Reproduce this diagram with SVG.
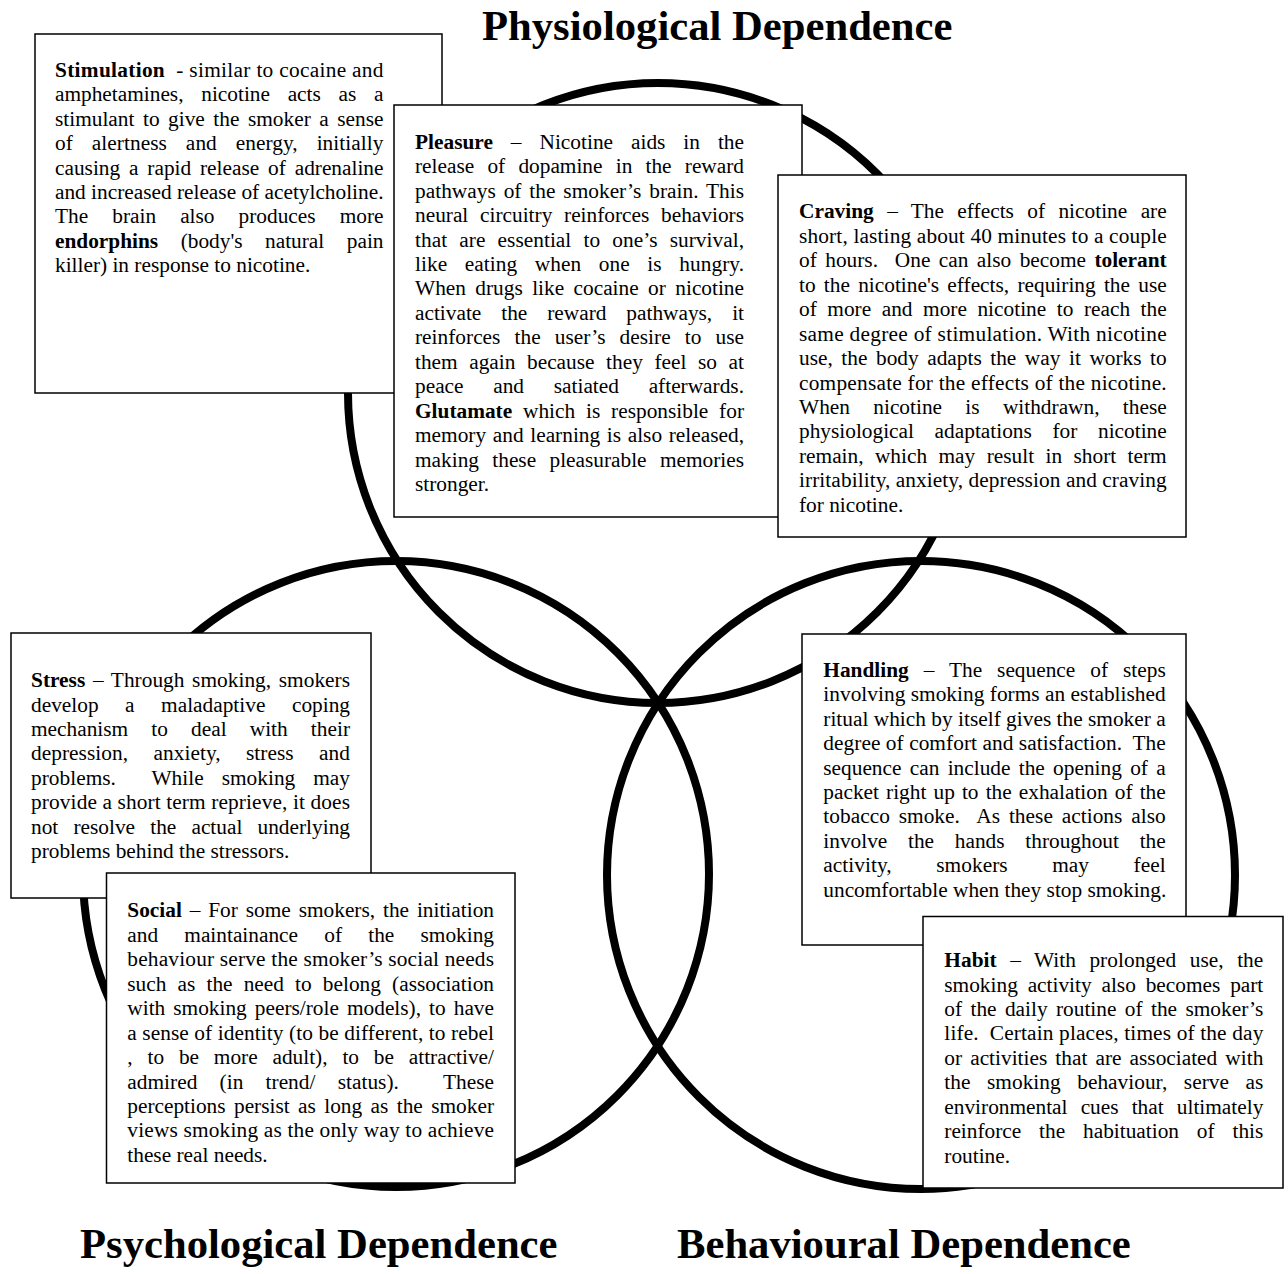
<svg xmlns="http://www.w3.org/2000/svg" width="1288" height="1274" viewBox="0 0 1288 1274" xml:space="preserve">
<style>
.ring{fill:none;stroke:#000;stroke-width:8}
.box{fill:#fff;stroke:#000;stroke-width:1.5}
text{font-family:"Liberation Serif","Times New Roman",serif;font-size:21.33px;fill:#000;white-space:pre}
.title{font-size:42.67px;font-weight:bold}
.b{font-weight:bold}
</style>
<rect width="1288" height="1274" fill="#fff"/>
<g id="titles">
<text class="title" x="482" y="40">Physiological Dependence</text>
<text class="title" x="80" y="1258">Psychological Dependence</text>
<text class="title" x="677" y="1258">Behavioural Dependence</text>
</g>
<g id="circles">
<circle class="ring" cx="658" cy="393" r="310"/>
<circle class="ring" cx="396" cy="874" r="313"/>
<circle class="ring" cx="921" cy="875" r="314"/>
</g>
<g id="box-stimulation">
<rect class="box" x="35" y="34" width="407" height="359"/>
<text x="55" y="76.7" textLength="328.5" lengthAdjust="spacing"><tspan class="b">Stimulation</tspan>  - similar to cocaine and</text>
<text x="55" y="101.2" textLength="328.5" lengthAdjust="spacing" word-spacing="12.4">amphetamines, nicotine acts as a</text>
<text x="55" y="125.6" textLength="328.5" lengthAdjust="spacing" word-spacing="3.2">stimulant to give the smoker a sense</text>
<text x="55" y="150.1" textLength="328.5" lengthAdjust="spacing" word-spacing="13.5">of alertness and energy, initially</text>
<text x="55" y="174.5" textLength="328.5" lengthAdjust="spacing" word-spacing="3.5">causing a rapid release of adrenaline</text>
<text x="55" y="199" textLength="328.5" lengthAdjust="spacing">and increased release of acetylcholine.</text>
<text x="55" y="223.4" textLength="328.5" lengthAdjust="spacing" word-spacing="18.7">The brain also produces more</text>
<text x="55" y="247.9" textLength="328.5" lengthAdjust="spacing" word-spacing="17.2"><tspan class="b">endorphins</tspan> (body's natural pain</text>
<text x="55" y="272.3">killer) in response to nicotine.</text>
</g>
<g id="box-pleasure">
<rect class="box" x="394" y="105" width="408" height="412"/>
<text x="415" y="148.7" textLength="329" lengthAdjust="spacing" word-spacing="12.6"><tspan class="b">Pleasure</tspan> – Nicotine aids in the</text>
<text x="415" y="173.2" textLength="329" lengthAdjust="spacing" word-spacing="7.9">release of dopamine in the reward</text>
<text x="415" y="197.6" textLength="329" lengthAdjust="spacing" word-spacing="2.5">pathways of the smoker’s brain. This</text>
<text x="415" y="222.1" textLength="329" lengthAdjust="spacing" word-spacing="6.4">neural circuitry reinforces behaviors</text>
<text x="415" y="246.5" textLength="329" lengthAdjust="spacing" word-spacing="6.8">that are essential to one’s survival,</text>
<text x="415" y="271" textLength="329" lengthAdjust="spacing" word-spacing="12.2">like eating when one is hungry.</text>
<text x="415" y="295.4" textLength="329" lengthAdjust="spacing" word-spacing="4.1">When drugs like cocaine or nicotine</text>
<text x="415" y="319.9" textLength="329" lengthAdjust="spacing" word-spacing="14.6">activate the reward pathways, it</text>
<text x="415" y="344.3" textLength="329" lengthAdjust="spacing" word-spacing="8.8">reinforces the user’s desire to use</text>
<text x="415" y="368.8" textLength="329" lengthAdjust="spacing" word-spacing="6.3">them again because they feel so at</text>
<text x="415" y="393.2" textLength="329" lengthAdjust="spacing" word-spacing="24.4">peace and satiated afterwards.</text>
<text x="415" y="417.7" textLength="329" lengthAdjust="spacing" word-spacing="5.5"><tspan class="b">Glutamate</tspan> which is responsible for</text>
<text x="415" y="442.1" textLength="329" lengthAdjust="spacing" word-spacing="1.3">memory and learning is also released,</text>
<text x="415" y="466.6" textLength="329" lengthAdjust="spacing" word-spacing="8">making these pleasurable memories</text>
<text x="415" y="491">stronger.</text>
</g>
<g id="box-craving">
<rect class="box" x="778" y="175" width="408" height="362"/>
<text x="799" y="218.3" textLength="367.7" lengthAdjust="spacing" word-spacing="8"><tspan class="b">Craving</tspan> – The effects of nicotine are</text>
<text x="799" y="242.8" textLength="367.7" lengthAdjust="spacing">short, lasting about 40 minutes to a couple</text>
<text x="799" y="267.2" textLength="367.7" lengthAdjust="spacing" word-spacing="3.1">of hours.  One can also become <tspan class="b">tolerant</tspan></text>
<text x="799" y="291.7" textLength="367.7" lengthAdjust="spacing" word-spacing="2.9">to the nicotine's effects, requiring the use</text>
<text x="799" y="316.1" textLength="367.7" lengthAdjust="spacing" word-spacing="5.2">of more and more nicotine to reach the</text>
<text x="799" y="340.6" textLength="367.7" lengthAdjust="spacing">same degree of stimulation. With nicotine</text>
<text x="799" y="365" textLength="367.7" lengthAdjust="spacing" word-spacing="3.2">use, the body adapts the way it works to</text>
<text x="799" y="389.5" textLength="367.7" lengthAdjust="spacing">compensate for the effects of the nicotine.</text>
<text x="799" y="413.9" textLength="367.7" lengthAdjust="spacing" word-spacing="18">When nicotine is withdrawn, these</text>
<text x="799" y="438.4" textLength="367.7" lengthAdjust="spacing" word-spacing="15.3">physiological adaptations for nicotine</text>
<text x="799" y="462.8" textLength="367.7" lengthAdjust="spacing" word-spacing="6.1">remain, which may result in short term</text>
<text x="799" y="487.3" textLength="367.7" lengthAdjust="spacing">irritability, anxiety, depression and craving</text>
<text x="799" y="511.7">for nicotine.</text>
</g>
<g id="box-stress">
<rect class="box" x="11" y="633" width="360" height="265"/>
<text x="31" y="687" textLength="319" lengthAdjust="spacing" word-spacing="2.3"><tspan class="b">Stress</tspan> – Through smoking, smokers</text>
<text x="31" y="711.5" textLength="319" lengthAdjust="spacing" word-spacing="21.2">develop a maladaptive coping</text>
<text x="31" y="735.9" textLength="319" lengthAdjust="spacing" word-spacing="17.8">mechanism to deal with their</text>
<text x="31" y="760.4" textLength="319" lengthAdjust="spacing" word-spacing="20">depression, anxiety, stress and</text>
<text x="31" y="784.8" textLength="319" lengthAdjust="spacing" word-spacing="12.6">problems.  While smoking may</text>
<text x="31" y="809.3" textLength="319" lengthAdjust="spacing">provide a short term reprieve, it does</text>
<text x="31" y="833.7" textLength="319" lengthAdjust="spacing" word-spacing="9.8">not resolve the actual underlying</text>
<text x="31" y="858.2">problems behind the stressors.</text>
</g>
<g id="box-social">
<rect class="box" x="106.5" y="873" width="408.5" height="310"/>
<text x="127.3" y="917.3" textLength="366.7" lengthAdjust="spacing" word-spacing="2.5"><tspan class="b">Social</tspan> – For some smokers, the initiation</text>
<text x="127.3" y="941.8" textLength="366.7" lengthAdjust="spacing" word-spacing="20.9">and maintainance of the smoking</text>
<text x="127.3" y="966.2" textLength="366.7" lengthAdjust="spacing">behaviour serve the smoker’s social needs</text>
<text x="127.3" y="990.7" textLength="366.7" lengthAdjust="spacing" word-spacing="5.8">such as the need to belong (association</text>
<text x="127.3" y="1015.1" textLength="366.7" lengthAdjust="spacing" word-spacing="2.7">with smoking peers/role models), to have</text>
<text x="127.3" y="1039.6" textLength="366.7" lengthAdjust="spacing">a sense of identity (to be different, to rebel</text>
<text x="127.3" y="1064" textLength="366.7" lengthAdjust="spacing" word-spacing="9.5">, to be more adult), to be attractive/</text>
<text x="127.3" y="1088.5" textLength="366.7" lengthAdjust="spacing" word-spacing="16.9">admired (in trend/ status).  These</text>
<text x="127.3" y="1112.9" textLength="366.7" lengthAdjust="spacing" word-spacing="3.1">perceptions persist as long as the smoker</text>
<text x="127.3" y="1137.4" textLength="366.7" lengthAdjust="spacing">views smoking as the only way to achieve</text>
<text x="127.3" y="1161.8">these real needs.</text>
</g>
<g id="box-handling">
<rect class="box" x="802" y="634" width="384" height="311"/>
<text x="823.3" y="676.7" textLength="342.4" lengthAdjust="spacing" word-spacing="9.6"><tspan class="b">Handling</tspan> – The sequence of steps</text>
<text x="823.3" y="701.2" textLength="342.4" lengthAdjust="spacing">involving smoking forms an established</text>
<text x="823.3" y="725.6" textLength="342.4" lengthAdjust="spacing">ritual which by itself gives the smoker a</text>
<text x="823.3" y="750.1" textLength="342.4" lengthAdjust="spacing">degree of comfort and satisfaction.  The</text>
<text x="823.3" y="774.5" textLength="342.4" lengthAdjust="spacing" word-spacing="3">sequence can include the opening of a</text>
<text x="823.3" y="799" textLength="342.4" lengthAdjust="spacing" word-spacing="1.8">packet right up to the exhalation of the</text>
<text x="823.3" y="823.4" textLength="342.4" lengthAdjust="spacing" word-spacing="3.4">tobacco smoke.  As these actions also</text>
<text x="823.3" y="847.9" textLength="342.4" lengthAdjust="spacing" word-spacing="15.4">involve the hands throughout the</text>
<text x="823.3" y="872.3" textLength="342.4" lengthAdjust="spacing" word-spacing="39.1">activity, smokers may feel</text>
<text x="823.3" y="896.8">uncomfortable when they stop smoking.</text>
</g>
<g id="box-habit">
<rect class="box" x="923" y="916.5" width="360" height="271.5"/>
<text x="944.3" y="967" textLength="319" lengthAdjust="spacing" word-spacing="8.1"><tspan class="b">Habit</tspan> – With prolonged use, the</text>
<text x="944.3" y="991.5" textLength="319" lengthAdjust="spacing" word-spacing="4.5">smoking activity also becomes part</text>
<text x="944.3" y="1015.9" textLength="319" lengthAdjust="spacing" word-spacing="3">of the daily routine of the smoker’s</text>
<text x="944.3" y="1040.4" textLength="319" lengthAdjust="spacing">life.  Certain places, times of the day</text>
<text x="944.3" y="1064.8" textLength="319" lengthAdjust="spacing" word-spacing="2.8">or activities that are associated with</text>
<text x="944.3" y="1089.3" textLength="319" lengthAdjust="spacing" word-spacing="11.2">the smoking behaviour, serve as</text>
<text x="944.3" y="1113.7" textLength="319" lengthAdjust="spacing" word-spacing="7.8">environmental cues that ultimately</text>
<text x="944.3" y="1138.2" textLength="319" lengthAdjust="spacing" word-spacing="12.5">reinforce the habituation of this</text>
<text x="944.3" y="1162.6">routine.</text>
</g>
</svg>
